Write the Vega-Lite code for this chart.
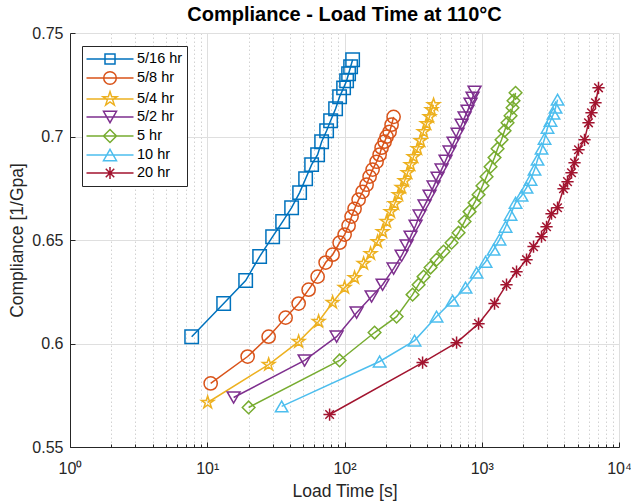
{
  "$schema": "https://vega.github.io/schema/vega-lite/v6.json",
  "width": 549,
  "height": 414,
  "autosize": "none",
  "padding": {"left": 70, "top": 33, "right": 12, "bottom": 57},
  "background": "white",
  "config": {"view": {"stroke": null}, "font": "Liberation Sans"},
  "title": {"text": "Compliance - Load Time at 110°C", "font": "Liberation Sans", "fontSize": 20, "fontWeight": "bold", "color": "#000000", "offset": 0, "anchor": "middle"},
  "data": {"values": [
    {"series": "5/16 hr", "time": 7.7, "compliance": 0.6033},
    {"series": "5/16 hr", "time": 13.17, "compliance": 0.6193},
    {"series": "5/16 hr", "time": 19.05, "compliance": 0.6304},
    {"series": "5/16 hr", "time": 24.08, "compliance": 0.642},
    {"series": "5/16 hr", "time": 29.95, "compliance": 0.6516},
    {"series": "5/16 hr", "time": 35.42, "compliance": 0.6589},
    {"series": "5/16 hr", "time": 41.18, "compliance": 0.6656},
    {"series": "5/16 hr", "time": 47.1, "compliance": 0.6729},
    {"series": "5/16 hr", "time": 52.08, "compliance": 0.6796},
    {"series": "5/16 hr", "time": 57.6, "compliance": 0.6864},
    {"series": "5/16 hr", "time": 63.7, "compliance": 0.6912},
    {"series": "5/16 hr", "time": 68.13, "compliance": 0.6975},
    {"series": "5/16 hr", "time": 74.07, "compliance": 0.7028},
    {"series": "5/16 hr", "time": 79.19, "compliance": 0.7076},
    {"series": "5/16 hr", "time": 86.13, "compliance": 0.7134},
    {"series": "5/16 hr", "time": 92.11, "compliance": 0.7192},
    {"series": "5/16 hr", "time": 98.49, "compliance": 0.7235},
    {"series": "5/16 hr", "time": 103.6, "compliance": 0.7269},
    {"series": "5/16 hr", "time": 107.1, "compliance": 0.7303},
    {"series": "5/16 hr", "time": 110.8, "compliance": 0.7337},
    {"series": "5/16 hr", "time": 114.6, "compliance": 0.7371},
    {"series": "5/8 hr", "time": 10.59, "compliance": 0.5807},
    {"series": "5/8 hr", "time": 19.69, "compliance": 0.5937},
    {"series": "5/8 hr", "time": 28.01, "compliance": 0.6033},
    {"series": "5/8 hr", "time": 37.24, "compliance": 0.6125},
    {"series": "5/8 hr", "time": 46.33, "compliance": 0.6193},
    {"series": "5/8 hr", "time": 54.76, "compliance": 0.626},
    {"series": "5/8 hr", "time": 63.7, "compliance": 0.6323},
    {"series": "5/8 hr", "time": 72.84, "compliance": 0.6391},
    {"series": "5/8 hr", "time": 81.91, "compliance": 0.6429},
    {"series": "5/8 hr", "time": 92.11, "compliance": 0.6487},
    {"series": "5/8 hr", "time": 100.2, "compliance": 0.6526},
    {"series": "5/8 hr", "time": 107.1, "compliance": 0.6569},
    {"series": "5/8 hr", "time": 112.6, "compliance": 0.6613},
    {"series": "5/8 hr", "time": 118.4, "compliance": 0.6651},
    {"series": "5/8 hr", "time": 126.7, "compliance": 0.6695},
    {"series": "5/8 hr", "time": 135.5, "compliance": 0.6733},
    {"series": "5/8 hr", "time": 144.9, "compliance": 0.6767},
    {"series": "5/8 hr", "time": 152.3, "compliance": 0.6806},
    {"series": "5/8 hr", "time": 160.2, "compliance": 0.684},
    {"series": "5/8 hr", "time": 171.3, "compliance": 0.6878},
    {"series": "5/8 hr", "time": 180.2, "compliance": 0.6912},
    {"series": "5/8 hr", "time": 186.3, "compliance": 0.6946},
    {"series": "5/8 hr", "time": 196.0, "compliance": 0.6975},
    {"series": "5/8 hr", "time": 202.6, "compliance": 0.6999},
    {"series": "5/8 hr", "time": 213.1, "compliance": 0.7023},
    {"series": "5/8 hr", "time": 220.3, "compliance": 0.7057},
    {"series": "5/8 hr", "time": 227.9, "compliance": 0.7095},
    {"series": "5/4 hr", "time": 10.07, "compliance": 0.5715},
    {"series": "5/4 hr", "time": 28.01, "compliance": 0.5898},
    {"series": "5/4 hr", "time": 46.33, "compliance": 0.6009},
    {"series": "5/4 hr", "time": 64.78, "compliance": 0.6106},
    {"series": "5/4 hr", "time": 81.91, "compliance": 0.6198},
    {"series": "5/4 hr", "time": 100.2, "compliance": 0.627},
    {"series": "5/4 hr", "time": 118.4, "compliance": 0.6318},
    {"series": "5/4 hr", "time": 137.8, "compliance": 0.6386},
    {"series": "5/4 hr", "time": 154.9, "compliance": 0.6434},
    {"series": "5/4 hr", "time": 174.2, "compliance": 0.6492},
    {"series": "5/4 hr", "time": 189.5, "compliance": 0.654},
    {"series": "5/4 hr", "time": 202.6, "compliance": 0.6589},
    {"series": "5/4 hr", "time": 216.7, "compliance": 0.6637},
    {"series": "5/4 hr", "time": 231.7, "compliance": 0.6675},
    {"series": "5/4 hr", "time": 247.8, "compliance": 0.6719},
    {"series": "5/4 hr", "time": 260.6, "compliance": 0.6753},
    {"series": "5/4 hr", "time": 274.1, "compliance": 0.6786},
    {"series": "5/4 hr", "time": 288.2, "compliance": 0.6825},
    {"series": "5/4 hr", "time": 303.0, "compliance": 0.6864},
    {"series": "5/4 hr", "time": 318.6, "compliance": 0.6902},
    {"series": "5/4 hr", "time": 340.8, "compliance": 0.6941},
    {"series": "5/4 hr", "time": 358.4, "compliance": 0.698},
    {"series": "5/4 hr", "time": 376.8, "compliance": 0.7023},
    {"series": "5/4 hr", "time": 396.2, "compliance": 0.7062},
    {"series": "5/4 hr", "time": 416.6, "compliance": 0.7095},
    {"series": "5/4 hr", "time": 430.9, "compliance": 0.7129},
    {"series": "5/4 hr", "time": 445.6, "compliance": 0.7153},
    {"series": "5/2 hr", "time": 15.57, "compliance": 0.5739},
    {"series": "5/2 hr", "time": 51.22, "compliance": 0.5918},
    {"series": "5/2 hr", "time": 87.6, "compliance": 0.6033},
    {"series": "5/2 hr", "time": 122.5, "compliance": 0.6149},
    {"series": "5/2 hr", "time": 157.6, "compliance": 0.6227},
    {"series": "5/2 hr", "time": 189.5, "compliance": 0.6284},
    {"series": "5/2 hr", "time": 227.9, "compliance": 0.6362},
    {"series": "5/2 hr", "time": 260.6, "compliance": 0.6424},
    {"series": "5/2 hr", "time": 283.4, "compliance": 0.6473},
    {"series": "5/2 hr", "time": 303.0, "compliance": 0.6516},
    {"series": "5/2 hr", "time": 329.5, "compliance": 0.6569},
    {"series": "5/2 hr", "time": 352.4, "compliance": 0.6618},
    {"series": "5/2 hr", "time": 383.1, "compliance": 0.6666},
    {"series": "5/2 hr", "time": 416.6, "compliance": 0.6714},
    {"series": "5/2 hr", "time": 445.6, "compliance": 0.6758},
    {"series": "5/2 hr", "time": 476.5, "compliance": 0.6801},
    {"series": "5/2 hr", "time": 509.6, "compliance": 0.684},
    {"series": "5/2 hr", "time": 545.0, "compliance": 0.6883},
    {"series": "5/2 hr", "time": 582.9, "compliance": 0.6927},
    {"series": "5/2 hr", "time": 623.3, "compliance": 0.697},
    {"series": "5/2 hr", "time": 666.6, "compliance": 0.7013},
    {"series": "5/2 hr", "time": 712.9, "compliance": 0.7057},
    {"series": "5/2 hr", "time": 749.6, "compliance": 0.7091},
    {"series": "5/2 hr", "time": 788.3, "compliance": 0.7124},
    {"series": "5/2 hr", "time": 828.8, "compliance": 0.7158},
    {"series": "5/2 hr", "time": 857.0, "compliance": 0.7187},
    {"series": "5/2 hr", "time": 886.3, "compliance": 0.7216},
    {"series": "5 hr", "time": 20.02, "compliance": 0.5691},
    {"series": "5 hr", "time": 92.11, "compliance": 0.5918},
    {"series": "5 hr", "time": 165.6, "compliance": 0.6053},
    {"series": "5 hr", "time": 239.7, "compliance": 0.613},
    {"series": "5 hr", "time": 313.3, "compliance": 0.6236},
    {"series": "5 hr", "time": 346.5, "compliance": 0.6284},
    {"series": "5 hr", "time": 376.8, "compliance": 0.6323},
    {"series": "5 hr", "time": 423.7, "compliance": 0.6367},
    {"series": "5 hr", "time": 468.6, "compliance": 0.6405},
    {"series": "5 hr", "time": 527.0, "compliance": 0.6444},
    {"series": "5 hr", "time": 602.6, "compliance": 0.6487},
    {"series": "5 hr", "time": 677.7, "compliance": 0.6535},
    {"series": "5 hr", "time": 749.6, "compliance": 0.6589},
    {"series": "5 hr", "time": 815.1, "compliance": 0.6637},
    {"series": "5 hr", "time": 886.3, "compliance": 0.668},
    {"series": "5 hr", "time": 947.8, "compliance": 0.6719},
    {"series": "5 hr", "time": 1013, "compliance": 0.6762},
    {"series": "5 hr", "time": 1084, "compliance": 0.6806},
    {"series": "5 hr", "time": 1159, "compliance": 0.6854},
    {"series": "5 hr", "time": 1239, "compliance": 0.6898},
    {"series": "5 hr", "time": 1304, "compliance": 0.6941},
    {"series": "5 hr", "time": 1394, "compliance": 0.6984},
    {"series": "5 hr", "time": 1466, "compliance": 0.7028},
    {"series": "5 hr", "time": 1541, "compliance": 0.7066},
    {"series": "5 hr", "time": 1621, "compliance": 0.71},
    {"series": "5 hr", "time": 1676, "compliance": 0.7139},
    {"series": "5 hr", "time": 1704, "compliance": 0.7173},
    {"series": "5 hr", "time": 1763, "compliance": 0.7211},
    {"series": "10 hr", "time": 34.83, "compliance": 0.5696},
    {"series": "10 hr", "time": 180.2, "compliance": 0.5913},
    {"series": "10 hr", "time": 324.0, "compliance": 0.6014},
    {"series": "10 hr", "time": 468.6, "compliance": 0.613},
    {"series": "10 hr", "time": 612.9, "compliance": 0.6207},
    {"series": "10 hr", "time": 762.1, "compliance": 0.627},
    {"series": "10 hr", "time": 916.5, "compliance": 0.6342},
    {"series": "10 hr", "time": 1066, "compliance": 0.6395},
    {"series": "10 hr", "time": 1219, "compliance": 0.6453},
    {"series": "10 hr", "time": 1348, "compliance": 0.6502},
    {"series": "10 hr", "time": 1491, "compliance": 0.6564},
    {"series": "10 hr", "time": 1621, "compliance": 0.6622},
    {"series": "10 hr", "time": 1763, "compliance": 0.668},
    {"series": "10 hr", "time": 1950, "compliance": 0.6714},
    {"series": "10 hr", "time": 2120, "compliance": 0.6753},
    {"series": "10 hr", "time": 2267, "compliance": 0.6791},
    {"series": "10 hr", "time": 2424, "compliance": 0.684},
    {"series": "10 hr", "time": 2549, "compliance": 0.6888},
    {"series": "10 hr", "time": 2726, "compliance": 0.6941},
    {"series": "10 hr", "time": 2867, "compliance": 0.6989},
    {"series": "10 hr", "time": 3014, "compliance": 0.7042},
    {"series": "10 hr", "time": 3170, "compliance": 0.7076},
    {"series": "10 hr", "time": 3334, "compliance": 0.711},
    {"series": "10 hr", "time": 3448, "compliance": 0.7139},
    {"series": "10 hr", "time": 3566, "compliance": 0.7178},
    {"series": "20 hr", "time": 77.89, "compliance": 0.5657},
    {"series": "20 hr", "time": 370.6, "compliance": 0.5908},
    {"series": "20 hr", "time": 655.5, "compliance": 0.6004},
    {"series": "20 hr", "time": 947.8, "compliance": 0.6096},
    {"series": "20 hr", "time": 1239, "compliance": 0.6193},
    {"series": "20 hr", "time": 1515, "compliance": 0.6284},
    {"series": "20 hr", "time": 1792, "compliance": 0.6347},
    {"series": "20 hr", "time": 2120, "compliance": 0.6405},
    {"series": "20 hr", "time": 2384, "compliance": 0.6468},
    {"series": "20 hr", "time": 2726, "compliance": 0.6516},
    {"series": "20 hr", "time": 2965, "compliance": 0.6564},
    {"series": "20 hr", "time": 3224, "compliance": 0.6627},
    {"series": "20 hr", "time": 3566, "compliance": 0.6656},
    {"series": "20 hr", "time": 3943, "compliance": 0.6748},
    {"series": "20 hr", "time": 4216, "compliance": 0.6782},
    {"series": "20 hr", "time": 4508, "compliance": 0.6825},
    {"series": "20 hr", "time": 4742, "compliance": 0.6873},
    {"series": "20 hr", "time": 5070, "compliance": 0.6936},
    {"series": "20 hr", "time": 5607, "compliance": 0.6984},
    {"series": "20 hr", "time": 5995, "compliance": 0.7066},
    {"series": "20 hr", "time": 6304, "compliance": 0.7115},
    {"series": "20 hr", "time": 6743, "compliance": 0.7163},
    {"series": "20 hr", "time": 7091, "compliance": 0.7235}
  ]},
  "encoding": {
    "x": {
      "field": "time", "type": "quantitative",
      "scale": {"type": "log", "domain": [1, 10000], "nice": false},
      "axis": {
        "values": [1,2,3,4,5,6,7,8,9,10,20,30,40,50,60,70,80,90,100,200,300,400,500,600,700,800,900,1000,2000,3000,4000,5000,6000,7000,8000,9000,10000],
        "labelExpr": "datum.value == 1 ? '10⁰' : datum.value == 10 ? '10¹' : datum.value == 100 ? '10²' : datum.value == 1000 ? '10³' : datum.value == 10000 ? '10⁴' : ''",
        "labelFont": "Liberation Sans", "labelFontSize": 16, "labelColor": "#262626",
        "labelPadding": 18, "labelFlush": false, "labelOverlap": false,
        "title": "Load Time [s]", "titleFont": "Liberation Sans", "titleFontSize": 17.5, "titleFontWeight": "normal", "titleColor": "#262626", "titlePadding": 4,
        "domainColor": "#262626", "domainWidth": 1,
        "tickColor": "#262626", "tickWidth": 1,
        "tickSize": {"condition": {"test": "indexof([1,10,100,1000,10000], datum.value) >= 0", "value": -5}, "value": -3},
        "grid": true,
        "gridColor": {"condition": {"test": "indexof([1,10,100,1000,10000], datum.value) >= 0", "value": "#dfdfdf"}, "value": "#d2d2d2"},
        "gridDash": {"condition": {"test": "indexof([1,10,100,1000,10000], datum.value) >= 0", "value": []}, "value": [1.5, 2.5]},
        "gridWidth": 1
      }
    },
    "y": {
      "field": "compliance", "type": "quantitative",
      "scale": {"domain": [0.55, 0.75], "nice": false, "zero": false},
      "axis": {
        "values": [0.55, 0.6, 0.65, 0.7, 0.75], "format": ".2~f",
        "labelFont": "Liberation Sans", "labelFontSize": 16, "labelColor": "#262626", "labelPadding": 12, "labelFlush": false,
        "title": "Compliance [1/Gpa]", "titleFont": "Liberation Sans", "titleFontSize": 17.5, "titleFontWeight": "normal", "titleColor": "#262626", "titlePadding": 5,
        "domainColor": "#262626", "domainWidth": 1,
        "tickColor": "#262626", "tickSize": -5,
        "grid": true, "gridColor": "#dfdfdf", "gridWidth": 1
      }
    },
    "color": {
      "field": "series", "type": "nominal",
      "scale": {
        "domain": ["5/16 hr", "5/8 hr", "5/4 hr", "5/2 hr", "5 hr", "10 hr", "20 hr"],
        "range": ["#0072BD", "#D95319", "#EDB120", "#7E2F8E", "#77AC30", "#4DBEEE", "#A2142F"]
      },
      "legend": {
        "orient": "none", "legendX": 12, "legendY": 13, "title": null,
        "strokeColor": "#262626", "fillColor": "white", "padding": 4,
        "labelFont": "Liberation Sans", "labelFontSize": 14.5, "labelColor": "#000000", "labelOffset": 4,
        "symbolSize": 225, "symbolStrokeWidth": 1.5, "rowPadding": 0,
        "encode": {
          "symbols": {
            "update": {
              "shape": {"signal": "datum.value == '5/16 hr' ? 'M-1,0H1M-0.213,-0.213H0.213V0.213H-0.213Z' : datum.value == '5/8 hr' ? 'M-1,0H1M0.268,0A0.268,0.268,0,1,1,-0.268,0A0.268,0.268,0,1,1,0.268,0Z' : datum.value == '5/4 hr' ? 'M-1,0H1M0,-0.315L0.0707,-0.0973L0.2996,-0.0973L0.1143,0.0372L0.1852,0.2548L0,0.1203L-0.1852,0.2548L-0.1143,0.0372L-0.2996,-0.0973L-0.0707,-0.0973Z' : datum.value == '5/2 hr' ? 'M-1,0H1M-0.277,-0.24L0.277,-0.24L0,0.24Z' : datum.value == '5 hr' ? 'M-1,0H1M-0.277,0L0,-0.277L0.277,0L0,0.277Z' : datum.value == '10 hr' ? 'M-1,0H1M0,-0.24L0.277,0.24L-0.277,0.24Z' : 'M-1,0H1M0,-0.255V0.255M-0.18,-0.18L0.18,0.18M-0.18,0.18L0.18,-0.18'"},
              "size": {"value": 2209},
              "x": {"value": 24},
              "y": {"value": 9},
              "fill": {"value": "transparent"},
              "opacity": {"value": 1},
              "strokeWidth": {"value": 1.5}
            }
          },
          "labels": {
            "update": {
              "x": {"value": 51},
              "y": {"value": 9},
              "baseline": {"value": "middle"}
            }
          }
        }
      }
    }
  },
  "layer": [
    {"mark": {"type": "line", "strokeWidth": 1.5}, "encoding": {}},
    {
      "mark": {"type": "point", "filled": false, "strokeWidth": 1.5, "opacity": 1},
      "encoding": {
        "shape": {
          "field": "series", "type": "nominal", "legend": null,
          "scale": {
            "domain": ["20 hr", "10 hr", "5 hr", "5/2 hr", "5/4 hr", "5/8 hr", "5/16 hr"],
            "range": ["M-1,0H1M0,-1V1M-0.7,-0.7L0.7,0.7M-0.7,0.7L0.7,-0.7", "triangle-up", "diamond", "triangle-down", "M0,-1L0.2245,-0.309L0.951,-0.309L0.363,0.118L0.588,0.809L0,0.382L-0.588,0.809L-0.363,0.118L-0.951,-0.309L-0.2245,-0.309Z", "circle", "square"]
          }
        },
        "size": {
          "field": "series", "type": "nominal", "legend": null,
          "scale": {
            "domain": ["20 hr", "10 hr", "5 hr", "5/2 hr", "5/4 hr", "5/8 hr", "5/16 hr"],
            "range": [150, 180, 180, 180, 230, 170, 110]
          }
        }
      }
    }
  ]
}
